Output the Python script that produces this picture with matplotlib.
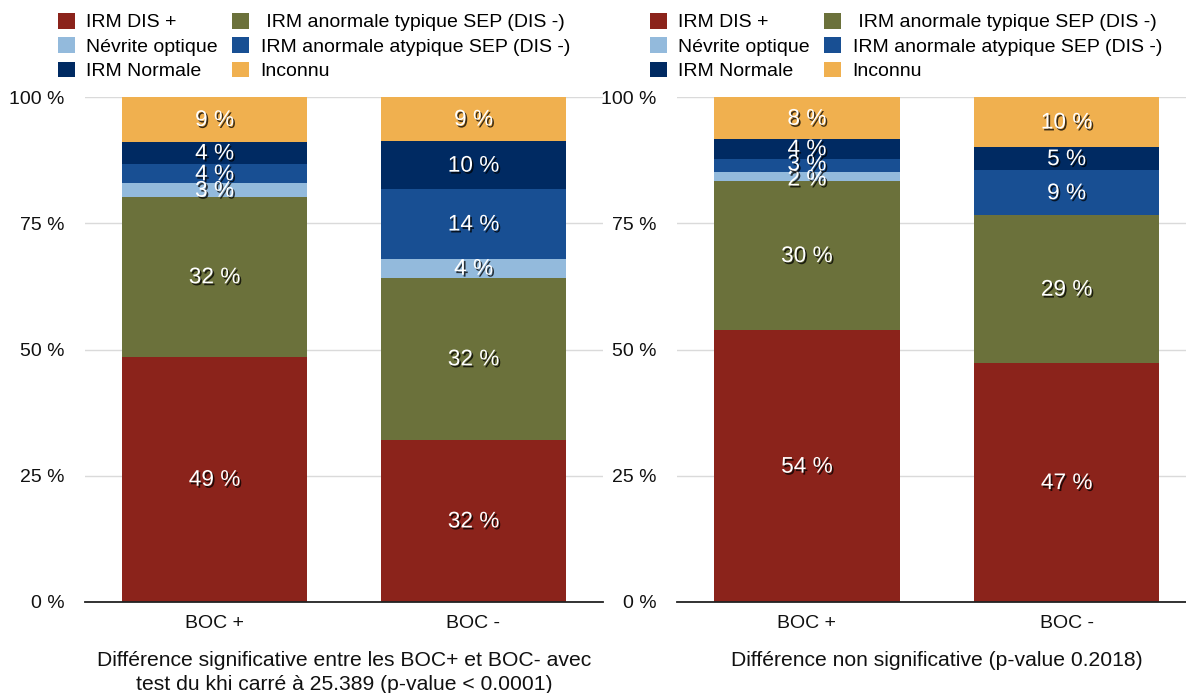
import matplotlib
matplotlib.use("Agg")
import matplotlib.pyplot as plt
import matplotlib.patheffects as pe
from matplotlib.patches import Patch
from matplotlib.transforms import blended_transform_factory
import numpy as np

plt.rcParams['font.family'] = ['Liberation Sans', 'DejaVu Sans']

# Categories (stack order, bottom to top)
categories = [
    "IRM DIS +",
    " IRM anormale typique SEP (DIS -)",
    "Névrite optique",
    "IRM anormale atypique SEP (DIS -)",
    "IRM Normale",
    "Inconnu",
]
colors = ["#8B231B", "#6B713B", "#93BADC", "#184F93", "#002A62", "#F0B04F"]

groups = ["BOC +", "BOC -"]

# Percentages per group, one value per category (bottom to top)
sig_boc_plus = [48.6, 31.6, 2.7, 3.8, 4.4, 8.9]
sig_boc_minus = [32.1, 32.1, 3.8, 13.7, 9.6, 8.7]
ns_boc_plus = [53.8, 29.6, 1.7, 2.6, 3.9, 8.4]
ns_boc_minus = [47.3, 29.3, 0.0, 8.9, 4.6, 9.9]

subtitle_sig = ("Différence significative entre les BOC+ et BOC- avec\n"
                "test du khi carré à 25.389 (p-value < 0.0001)")
subtitle_ns = "Différence non significative (p-value 0.2018)"

yticks = [0, 25, 50, 75, 100]
ytick_labels = ["0 %", "25 %", "50 %", "75 %", "100 %"]

W, H = 1186, 693
fig = plt.figure(figsize=(W / 100, H / 100), dpi=100)

shadow = [pe.withSimplePatchShadow(offset=(1.2, -1.4), shadow_rgbFace="black", alpha=0.75)]


def spread_labels(centers, gap):
    """Push apart label positions that sit closer than `gap` (data units)."""
    pos = list(centers)
    for _ in range(200):
        moved = False
        for i in range(len(pos) - 1):
            d = pos[i + 1] - pos[i]
            if d < gap - 1e-6:
                shift = (gap - d) / 2
                pos[i] -= shift
                pos[i + 1] += shift
                moved = True
        if not moved:
            break
    return pos


def draw_panel(rect, xlim, series, subtitle):
    ax = fig.add_axes(rect)
    x = np.arange(len(groups))
    width = 0.715
    data = np.array(series)  # shape (groups, categories)
    bottoms = np.zeros(len(groups))
    for ci, (cat, col) in enumerate(zip(categories, colors)):
        vals = data[:, ci]
        ax.bar(x, vals, width, bottom=bottoms, color=col, linewidth=0, zorder=2)
        bottoms = bottoms + vals

    # segment value labels
    for gi in range(len(groups)):
        vals = data[gi]
        tops = np.cumsum(vals)
        centers = tops - vals / 2
        idx = [i for i in range(len(vals)) if vals[i] > 0]
        pos = spread_labels([centers[i] for i in idx], 3.0)
        for i, y in zip(idx, pos):
            ax.text(x[gi], y, f"{vals[i]:.0f} %", ha="center", va="center",
                    color="white", fontsize=16.3, zorder=4, path_effects=shadow)

    ax.set_xlim(*xlim)
    ax.set_ylim(0, 100)
    ax.set_yticks(yticks)
    ax.set_yticklabels(ytick_labels)
    ax.set_xticks(x)
    ax.set_xticklabels(groups)
    ax.tick_params(axis="both", length=0, labelsize=14, colors="#111111")
    ax.tick_params(axis="y", pad=15)
    ax.tick_params(axis="x", pad=9)
    for s in ["top", "right", "left"]:
        ax.spines[s].set_visible(False)
    ax.spines["bottom"].set_color("#222222")
    ax.spines["bottom"].set_linewidth(1.3)
    ax.spines["bottom"].set_zorder(3)
    ax.set_axisbelow(True)
    ax.yaxis.grid(True, color="#DADADA", linewidth=1.0, zorder=0)
    ax.xaxis.grid(False)

    trans = blended_transform_factory(ax.transData, ax.transAxes)
    ax.annotate(subtitle, xy=(0.5, 0), xycoords=trans, xytext=(0, -35.5),
                textcoords="offset points", ha="center", va="top",
                fontsize=15.2, color="#111111", linespacing=1.28,
                annotation_clip=False)
    return ax


bottom = 1 - 602 / H
height = (602 - 97) / H
ax1 = draw_panel([85 / W, bottom, 518 / W, height], (-0.5, 1.5),
                 [sig_boc_plus, sig_boc_minus], subtitle_sig)
ax2 = draw_panel([677 / W, bottom, (W - 677) / W, height], (-0.5, 1.46),
                 [ns_boc_plus, ns_boc_minus], subtitle_ns)

# Legends: first column DIS+/Névrite/Normale, second column the others
order = [0, 2, 4, 1, 3, 5]
handles = [Patch(facecolor=colors[i], edgecolor="none") for i in order]
labels = [categories[i] for i in order]
for x0 in (58, 650):
    fig.legend(handles, labels, ncol=2, loc="upper left",
               bbox_to_anchor=(x0 / W, 1 - 13 / H), frameon=False,
               fontsize=14, handlelength=0.85, handleheight=0.85,
               handletextpad=0.6, columnspacing=0.75, labelspacing=0.3,
               borderpad=0, borderaxespad=0)

fig.savefig("out.png", dpi=100)
